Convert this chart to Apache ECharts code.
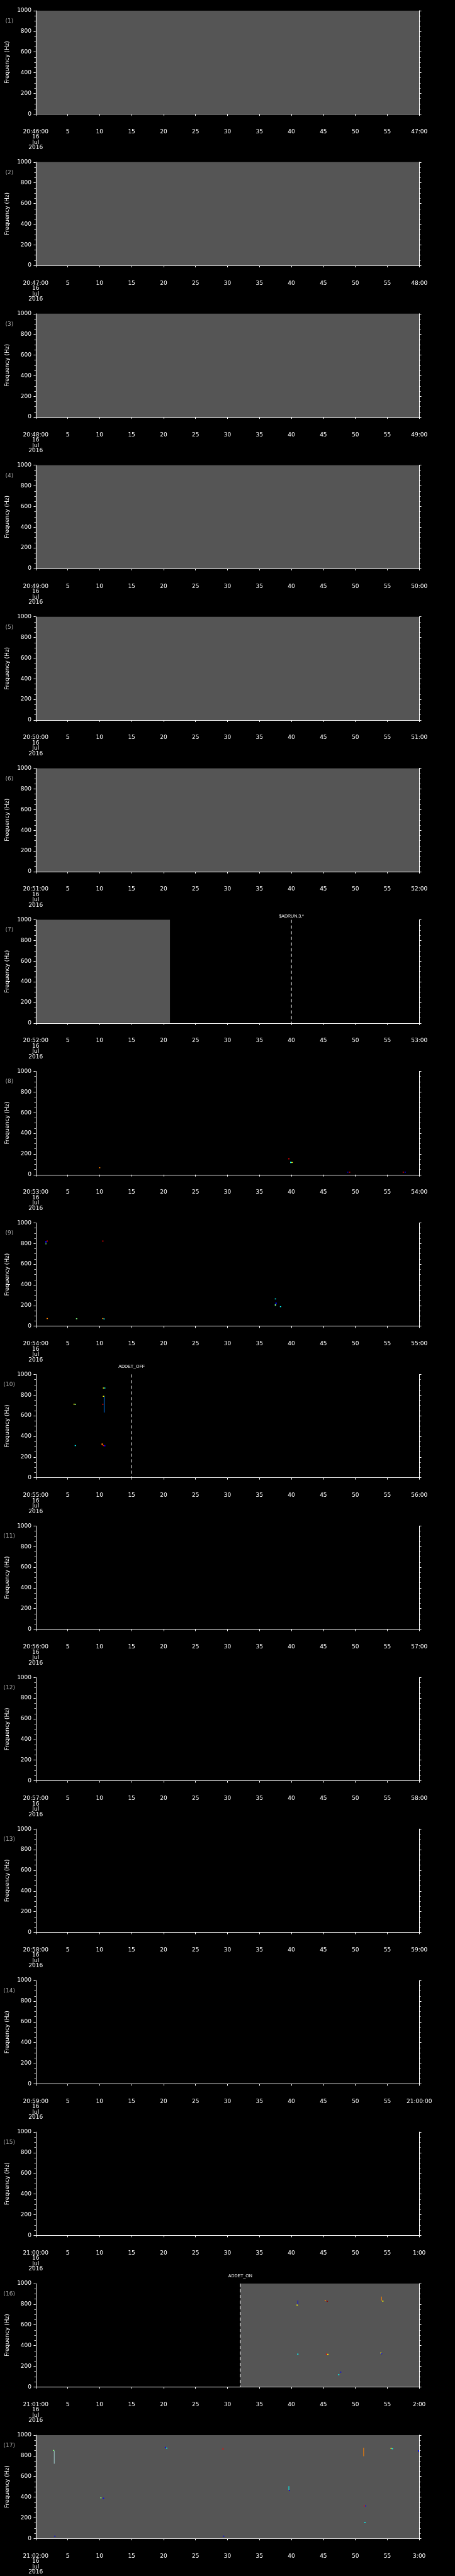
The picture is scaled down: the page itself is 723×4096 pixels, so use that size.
<!DOCTYPE html>
<html>
<head>
<meta charset="utf-8">
<script src="https://cdn.jsdelivr.net/npm/echarts@6/dist/echarts.min.js"></script>
<style>
html, body { margin: 0; padding: 0; background: #000; }
#main { width: 723px; height: 4096px; }
</style>
</head>
<body>
<div id="main"></div>
<script>
// tick labels of the 17 one-minute panels
var startTimes = ['20:46:00', '20:47:00', '20:48:00', '20:49:00', '20:50:00', '20:51:00',
    '20:52:00', '20:53:00', '20:54:00', '20:55:00', '20:56:00', '20:57:00',
    '20:58:00', '20:59:00', '21:00:00', '21:01:00', '21:02:00'];
var endLabels = ['47:00', '48:00', '49:00', '50:00', '51:00', '52:00', '53:00', '54:00',
    '55:00', '56:00', '57:00', '58:00', '59:00', '21:00:00', '1:00', '2:00', '3:00'];
var dateLines = ['16', 'Jul', '2016'];

// seconds covered by data (grey background): [panel, from, to]
var coverage = [
    [1, 0, 60], [2, 0, 60], [3, 0, 60], [4, 0, 60], [5, 0, 60], [6, 0, 60],
    [7, 0, 21], [16, 32, 60], [17, 0, 60]
];

// event markers: [panel, second, text]
var events = [
    [7, 40, '$ADRUN,3,*'],
    [10, 15, 'ADDET_OFF'],
    [16, 32, 'ADDET_ON']
];
var eventLift = [6, 12, 12];

// detections: [panel, second, freq low, freq high, level]
var specks = [
    [8, 10.0, 67, 67, 6], [8, 39.6, 153, 153, 7], [8, 39.9, 108, 120, 3], [8, 40.1, 118, 118, 5],
    [8, 48.8, 24, 24, 1], [8, 49.1, 24, 24, 7], [8, 57.5, 24, 24, 7], [8, 57.8, 24, 24, 1],
    [9, 1.6, 786, 805, 4], [9, 1.6, 805, 820, 1], [9, 1.8, 824, 824, 7], [9, 10.5, 824, 824, 7],
    [9, 1.8, 74, 74, 6], [9, 6.4, 72, 72, 4], [9, 10.5, 74, 74, 6], [9, 10.7, 70, 70, 3],
    [9, 37.5, 264, 264, 3], [9, 37.6, 208, 224, 1], [9, 37.5, 193, 208, 4], [9, 38.3, 189, 189, 3],
    [10, 6.0, 712, 712, 5], [10, 6.2, 710, 710, 4], [10, 6.2, 311, 311, 3],
    [10, 10.6, 868, 868, 5], [10, 10.8, 868, 868, 3], [10, 10.7, 627, 788, 2], [10, 10.6, 788, 788, 5],
    [10, 10.5, 711, 711, 7], [10, 10.4, 310, 327, 6], [10, 10.6, 311, 311, 7], [10, 10.8, 298, 311, 1],
    [16, 41.0, 792, 832, 1], [16, 40.9, 792, 792, 5], [16, 45.3, 834, 834, 6], [16, 45.6, 828, 828, 8],
    [16, 54.1, 830, 870, 6], [16, 54.3, 830, 830, 5], [16, 41.0, 317, 317, 3], [16, 45.5, 317, 317, 7],
    [16, 45.7, 315, 315, 5], [16, 54.0, 328, 328, 5], [16, 54.1, 321, 321, 1], [16, 47.7, 143, 143, 1],
    [16, 47.4, 118, 118, 3],
    [17, 2.9, 718, 845, 9], [17, 2.8, 845, 852, 4], [17, 3.0, 22, 22, 1], [17, 10.2, 393, 393, 4],
    [17, 10.6, 389, 389, 1], [17, 20.3, 881, 881, 1], [17, 20.5, 874, 874, 3], [17, 29.3, 866, 866, 7],
    [17, 29.4, 22, 22, 1], [17, 39.6, 465, 501, 3], [17, 39.7, 465, 465, 1], [17, 51.3, 792, 874, 6],
    [17, 51.4, 314, 314, 7], [17, 51.6, 314, 314, 1], [17, 51.5, 154, 154, 3], [17, 55.6, 872, 872, 5],
    [17, 55.8, 868, 868, 3], [17, 59.9, 835, 849, 1]
];

// jet-like colour levels (last one: faint trace)
var jet = ['#00008f', '#0000ff', '#0080ff', '#00ffff', '#80ff80', '#ffff00', '#ff8000', '#ff0000', '#900000', '#9cc8c8'];

var S = 0.705;
var P = 4096 / 17;
var font = '"DejaVu Sans"';

function timeFmt(i) {
    return function (v) {
        if (v === 0) return startTimes[i] + '\n' + dateLines.join('\n');
        if (v === 60) return endLabels[i];
        return String(v);
    };
}

function renderCover(params, api) {
    var a = api.coord([api.value(0), 1000]);
    var b = api.coord([api.value(1), 0]);
    return {type: 'rect', shape: {x: a[0], y: a[1], width: b[0] - a[0], height: b[1] - a[1]},
        style: {fill: '#555555'}};
}

function renderSpeck(params, api) {
    var top = api.coord([api.value(0), api.value(2)]);
    var bot = api.coord([api.value(0), api.value(1)]);
    var h = Math.max(bot[1] - top[1], 1.5);
    var w = bot[1] - top[1] > 3 ? 1 : 2;
    return {type: 'rect', shape: {x: top[0] - w / 2, y: top[1] - 0.75, width: w, height: h},
        style: {fill: jet[api.value(3)]}};
}

function renderEvent(params, api) {
    var k = api.value(1);
    var a = api.coord([api.value(0), 1000]);
    var b = api.coord([api.value(0), 0]);
    return {
        type: 'group',
        children: [
            {type: 'line', shape: {x1: a[0], y1: a[1], x2: b[0], y2: b[1]},
                style: {stroke: '#fff', lineWidth: 1, lineDash: [5, 4]}},
            {type: 'text', x: a[0], y: a[1] - eventLift[k],
                style: {text: events[k][2], fill: '#fff', font: '7px "Liberation Sans"',
                    align: 'center', verticalAlign: 'middle', textAlign: 'center', textVerticalAlign: 'middle'}}
        ]
    };
}

var grids = [], xAxes = [], yAxes = [], series = [], graphics = [];
for (var i = 0; i < 17; i++) {
    var top0 = i * P;
    grids.push({left: 80.5 * S, width: 864.5 * S, top: top0 + 24 * S, height: 233 * S, outerBoundsMode: 'none'});
    xAxes.push({
        type: 'value', gridIndex: i, min: 0, max: 60, interval: 5, position: 'bottom', offset: 24 * S,
        axisLine: {show: true, lineStyle: {color: '#fff', width: 1}},
        axisTick: {show: true, inside: false, length: 3, lineStyle: {color: '#fff'}},
        axisLabel: {color: '#fff', fontSize: 9, fontFamily: font, margin: 7, lineHeight: 8.5, formatter: timeFmt(i)},
        splitLine: {show: false}
    });
    var yBase = {
        type: 'value', gridIndex: i, min: 0, max: 1000, interval: 200, z: 5,
        axisLine: {show: true, lineStyle: {color: '#fff', width: 1}},
        axisTick: {show: true, inside: false, length: 3.3, lineStyle: {color: '#fff'}},
        minorTick: {show: true, splitNumber: 4, length: 2.1, lineStyle: {color: '#fff'}},
        splitLine: {show: false}, minorSplitLine: {show: false}
    };
    yAxes.push(Object.assign({}, yBase, {
        position: 'left', name: 'Frequency (Hz)', nameLocation: 'middle', nameGap: 36, nameRotate: 90,
        nameTextStyle: {color: '#fff', fontSize: 9, fontFamily: font},
        axisLabel: {color: '#fff', fontSize: 9, fontFamily: font, margin: 6.7,
            formatter: function (v) { return String(v); }}
    }));
    yAxes.push(Object.assign({}, yBase, {position: 'right', axisLabel: {show: false}}));

    var n = i + 1;
    series.push({
        type: 'custom', xAxisIndex: i, yAxisIndex: 2 * i, z: 1, renderItem: renderCover,
        data: coverage.filter(function (c) { return c[0] === n; }).map(function (c) { return [c[1], c[2]]; })
    });
    series.push({
        type: 'custom', xAxisIndex: i, yAxisIndex: 2 * i, z: 3, renderItem: renderSpeck,
        encode: {x: 0, y: [1, 2]},
        data: specks.filter(function (d) { return d[0] === n; }).map(function (d) { return [d[1], d[2], d[3], d[4]]; })
    });
    var evData = [];
    events.forEach(function (e, k) { if (e[0] === n) evData.push([e[1], k]); });
    series.push({
        type: 'custom', xAxisIndex: i, yAxisIndex: 2 * i, z: 4, renderItem: renderEvent,
        encode: {x: 0}, data: evData
    });

    graphics.push({
        type: 'text', x: 21 * S, y: top0 + 47.5 * S,
        style: {text: '(' + n + ')', fill: '#aaaaaa', font: '9px ' + font,
            align: 'center', verticalAlign: 'middle', textAlign: 'center', textVerticalAlign: 'middle'}
    });
}

var myChart = echarts.init(document.getElementById('main'));
var option = {
    backgroundColor: '#000',
    animation: false,
    grid: grids,
    xAxis: xAxes,
    yAxis: yAxes,
    graphic: graphics,
    series: series
};
myChart.setOption(option, true);
</script>
</body>
</html>
